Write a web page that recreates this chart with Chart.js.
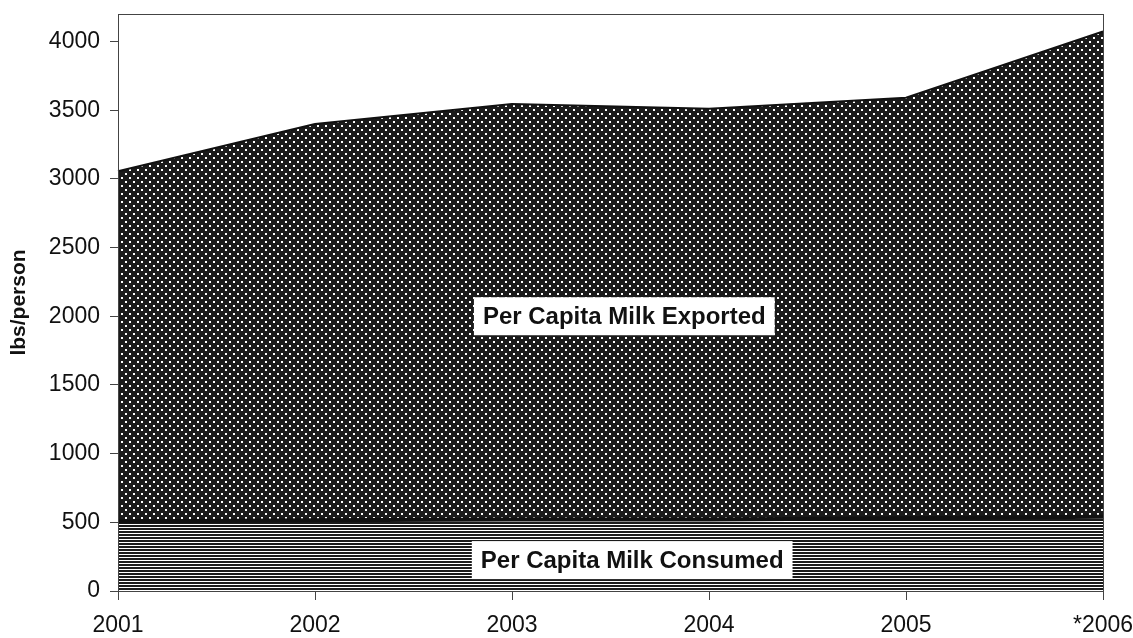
<!DOCTYPE html>
<html>
<head>
<meta charset="utf-8">
<script src="https://cdn.jsdelivr.net/npm/chart.js@4.4.0/dist/chart.umd.min.js"></script>
<style>
  html, body { margin: 0; padding: 0; background: #fff; }
</style>
</head>
<body>
<canvas id="milkChart" width="1133" height="638"></canvas>
<script>
const years = ["2001", "2002", "2003", "2004", "2005", "*2006"];
const consumed = [505, 515, 520, 520, 530, 540];
const exported = [2550, 2885, 3025, 2990, 3060, 3533];
const yTicks = [0, 500, 1000, 1500, 2000, 2500, 3000, 3500, 4000];

const canvas = document.getElementById("milkChart");
const ctx = canvas.getContext("2d");

// black with staggered white dots
function dotPattern() {
  const c = document.createElement("canvas");
  c.width = 8; c.height = 8;
  const g = c.getContext("2d");
  g.fillStyle = "#1b1b1b";
  g.fillRect(0, 0, 8, 8);
  g.fillStyle = "#fff";
  g.fillRect(1, 1, 2, 2);
  g.fillRect(5, 5, 2, 2);
  return ctx.createPattern(c, "repeat");
}

// horizontal black lines on white
function linePattern() {
  const c = document.createElement("canvas");
  c.width = 4; c.height = 3;
  const g = c.getContext("2d");
  g.fillStyle = "#fff";
  g.fillRect(0, 0, 4, 3);
  g.fillStyle = "#1b1b1b";
  g.fillRect(0, 0, 4, 2);
  return ctx.createPattern(c, "repeat");
}

const frame = {
  id: "frame",
  afterDatasetsDraw(chart) {
    const a = chart.chartArea;
    const c = chart.ctx;
    c.save();
    c.strokeStyle = "#444";
    c.lineWidth = 1;
    c.strokeRect(a.left + 0.5, a.top + 0.5, a.right - a.left, a.bottom - a.top);
    c.restore();
  }
};

const areaLabels = {
  id: "areaLabels",
  afterDatasetsDraw(chart) {
    const c = chart.ctx;
    const x = chart.scales.x;
    const y = chart.scales.y;
    const items = [
      { text: "Per Capita Milk Exported", at: 2.57, value: 2000 },
      { text: "Per Capita Milk Consumed", at: 2.61, value: 225 }
    ];
    c.save();
    c.font = "bold 24px 'Liberation Sans', Arial, sans-serif";
    c.textAlign = "center";
    c.textBaseline = "middle";
    items.forEach(item => {
      const px = x.getPixelForValue(item.at);
      const py = y.getPixelForValue(item.value);
      const w = c.measureText(item.text).width + 18;
      const h = 38;
      c.fillStyle = "#fff";
      c.fillRect(px - w / 2, py - h / 2, w, h);
      c.fillStyle = "#111";
      c.fillText(item.text, px, py + 1);
    });
    c.restore();
  }
};

const tickFont = { family: "'Liberation Sans', Arial, sans-serif", size: 23 };

new Chart(canvas, {
  type: "line",
  data: {
    labels: years,
    datasets: [
      {
        label: "Per Capita Milk Consumed",
        data: consumed,
        backgroundColor: linePattern(),
        borderColor: "#111",
        borderWidth: 4,
        fill: "origin",
        pointRadius: 0,
        tension: 0
      },
      {
        label: "Per Capita Milk Exported",
        data: exported,
        backgroundColor: dotPattern(),
        borderColor: "#111",
        borderWidth: 2,
        fill: "-1",
        pointRadius: 0,
        tension: 0
      }
    ]
  },
  options: {
    responsive: false,
    animation: false,
    devicePixelRatio: 1,
    layout: { padding: { top: 14, right: 30, left: 0, bottom: 0 } },
    plugins: {
      legend: { display: false },
      tooltip: { enabled: false }
    },
    scales: {
      x: {
        offset: false,
        grid: { drawOnChartArea: false, drawTicks: true, tickLength: 9, color: "#444" },
        border: { color: "#444" },
        ticks: { color: "#111", font: tickFont, padding: 12, maxRotation: 0, autoSkip: false },
        afterFit(scale) {
          scale.height = 47;
          scale.paddingLeft = 0;
          scale.paddingRight = 0;
        }
      },
      y: {
        stacked: true,
        min: 0,
        max: 4200,
        afterBuildTicks(scale) { scale.ticks = yTicks.map(v => ({ value: v })); },
        grid: { drawOnChartArea: false, drawTicks: true, tickLength: 8, color: "#444" },
        border: { color: "#444" },
        ticks: { color: "#111", font: tickFont, padding: 10, callback: v => String(v) },
        title: {
          display: true,
          text: "lbs/person",
          color: "#111",
          font: { family: "'Liberation Sans', Arial, sans-serif", size: 21, weight: "bold" },
          padding: { top: 7, bottom: 0 }
        },
        afterFit(scale) {
          scale.width = 118;
          scale.paddingTop = 0;
          scale.paddingBottom = 0;
        }
      }
    }
  },
  plugins: [frame, areaLabels]
});
</script>
</body>
</html>
